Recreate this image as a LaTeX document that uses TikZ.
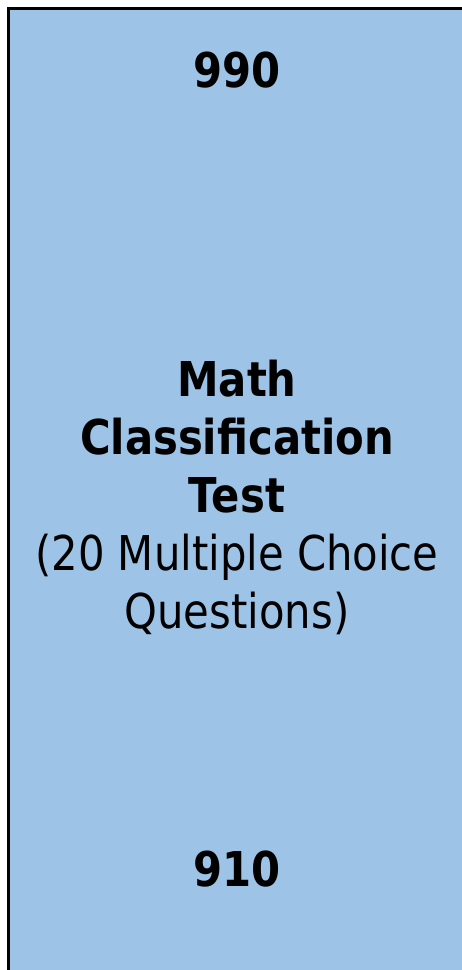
\documentclass[tikz,border=0pt]{standalone}
\usepackage{fontspec}
\setmainfont[FakeStretch=0.87]{DejaVu Sans}
\definecolor{paleblue}{RGB}{157,195,230}
\tikzset{
  card/.style={draw=black,line width=3pt,fill=paleblue},
  score/.style={font=\fontsize{48}{58}\selectfont\bfseries,inner sep=0pt},
  caption/.style={font=\fontsize{48}{58}\selectfont,align=center,inner sep=0pt},
}

\begin{document}
\begin{tikzpicture}[x=1pt,y=-1pt]
  \useasboundingbox (0,0) rectangle (462,970);
  % the test card, running off the right and bottom edges
  \draw[card] (8,8) rectangle (466,990);
  \node[score,anchor=base] (high) at (237,87) {990};
  \node[caption,anchor=base] (test) at (237,628)
    {\textbf{Math}\\\textbf{Classification}\\\textbf{Test}\\(20 Multiple Choice\\Questions)};
  \node[score,anchor=base] (low) at (237,886) {910};
\end{tikzpicture}
\end{document}
